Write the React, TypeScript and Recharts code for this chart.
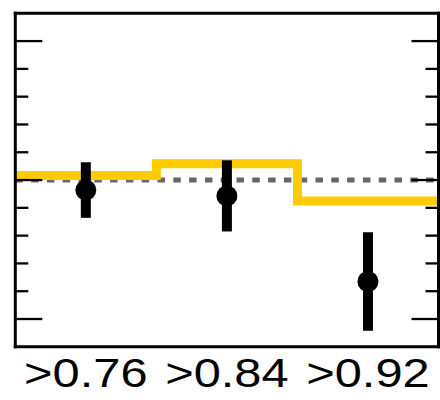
import { ComposedChart, Line, Scatter, ErrorBar, XAxis, YAxis, ReferenceLine } from "recharts"

// bins of the x variable, with their edges and centres on a 0..3 axis
const bins = [">0.76", ">0.84", ">0.92"]
const binEdges = [0, 1, 2, 3]
const binCenters = [0.5, 1.5, 2.5]

// yellow step histogram (simulation ratio)
const mcRatio = [1.016, 1.059, 0.925]
// black points with errors (data ratio)
const dataRatio = [0.964, 0.943, 0.635]
const dataErr = [0.1, 0.128, 0.177]

const yTicks = [0.5, 0.6, 0.7, 0.8, 0.9, 1.0, 1.1, 1.2, 1.3, 1.4, 1.5]
const majorTicks = [0.5, 1.0, 1.5]

const stepData = binEdges.map((x, i) => ({ x, mc: mcRatio[Math.min(i, mcRatio.length - 1)] }))
const points = binCenters.map((x, i) => ({ x, ratio: dataRatio[i], err: dataErr[i] }))

const frame = { stroke: "#000", strokeWidth: 3, strokeLinecap: "square" as const }

const YTick = ({ x, y, payload, side }: any) => {
  const len = majorTicks.includes(payload.value) ? 27 : 13
  const dir = side === "left" ? 1 : -1
  return <line x1={x} x2={x + dir * len} y1={y} y2={y} stroke="#000" strokeWidth={2.3} />
}

const XTick = ({ x, y, payload }: any) => (
  <g transform={`translate(${x},${y + 40})`}>
    <text
      x={0}
      y={0}
      textAnchor="middle"
      transform="scale(1.22,1)"
      fontSize={40}
      fontFamily="'Liberation Sans', Arial, sans-serif"
      fill="#000"
    >
      {bins[binCenters.indexOf(payload.value)]}
    </text>
  </g>
)

export default function App() {
  return (
    <div style={{ position: "absolute", left: 0, top: 0 }}>
      <ComposedChart width={440} height={400} margin={{ top: 12.3, right: 0.5, left: 14.3, bottom: 0 }}>
        <XAxis
          dataKey="x"
          type="number"
          domain={[0, 3]}
          ticks={binCenters}
          axisLine={frame}
          tickLine={false}
          tickSize={0}
          tickMargin={0}
          height={53.2}
          tick={<XTick />}
          interval={0}
        />
        <XAxis xAxisId="top" orientation="top" type="number" domain={[0, 3]} height={1} tick={false} tickLine={false} axisLine={frame} />
        <YAxis
          yAxisId="left"
          domain={[0.4, 1.6]}
          allowDataOverflow
          ticks={yTicks}
          width={1}
          axisLine={frame}
          tickLine={false}
          tickSize={0}
          tickMargin={0}
          interval={0}
          tick={<YTick side="left" />}
        />
        <YAxis
          yAxisId="right"
          orientation="right"
          type="number"
          domain={[0.4, 1.6]}
          allowDataOverflow
          ticks={yTicks}
          width={1}
          axisLine={frame}
          tickLine={false}
          tickSize={0}
          tickMargin={0}
          interval={0}
          tick={<YTick side="right" />}
        />
        <ReferenceLine yAxisId="left" y={1} stroke="#666666" strokeWidth={5} strokeDasharray="7.5 8.3" />
        <Line
          yAxisId="left"
          data={stepData}
          dataKey="mc"
          type="stepAfter"
          stroke="#FFCC00"
          strokeWidth={9}
          dot={false}
          activeDot={false}
          isAnimationActive={false}
        />
        <Scatter
          yAxisId="left"
          data={points}
          dataKey="ratio"
          fill="#000"
          isAnimationActive={false}
          shape={(p: any) => <circle cx={p.cx} cy={p.cy} r={10.5} fill="#000" />}
        >
          <ErrorBar dataKey="err" direction="y" width={0} stroke="#000" strokeWidth={10} isAnimationActive={false} />
        </Scatter>
      </ComposedChart>
    </div>
  )
}
